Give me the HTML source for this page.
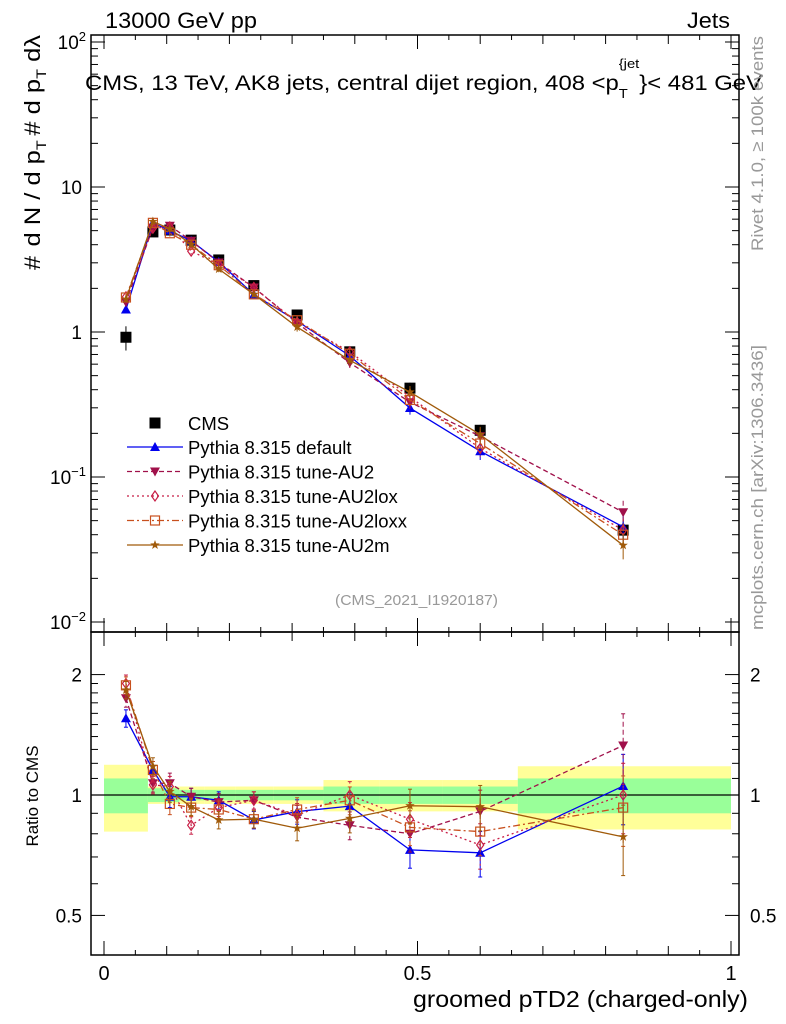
<!DOCTYPE html>
<html><head><meta charset="utf-8"><style>
body{margin:0;background:#fff;}
svg{display:block;font-family:"Liberation Sans",sans-serif;}
</style></head><body>
<svg id="chart" width="786" height="1024" viewBox="0 0 786 1024" xmlns="http://www.w3.org/2000/svg">
<g id="bands"></g>
<g id="series"></g>
<g id="axes"></g>
<text x="105" y="28" font-size="22" textLength="152" lengthAdjust="spacingAndGlyphs">13000 GeV pp</text>
<text x="687" y="28" font-size="22" textLength="43" lengthAdjust="spacingAndGlyphs">Jets</text>
<text x="85" y="90" font-size="21" textLength="677" lengthAdjust="spacingAndGlyphs">CMS, 13 TeV, AK8 jets, central dijet region, 408 &lt;p<tspan font-size="13" dy="8">T</tspan><tspan font-size="13" dy="-30" dx="-8">{jet</tspan><tspan dy="22">}&lt; 481 GeV</tspan></text>
<text x="335" y="605" font-size="15" fill="#999" textLength="163" lengthAdjust="spacingAndGlyphs">(CMS_2021_I1920187)</text>
<text transform="translate(763,251) rotate(-90)" font-size="17" fill="#999" textLength="215" lengthAdjust="spacingAndGlyphs">Rivet 4.1.0, ≥ 100k events</text>
<text transform="translate(763,630) rotate(-90)" font-size="17" fill="#999" textLength="285" lengthAdjust="spacingAndGlyphs">mcplots.cern.ch [arXiv:1306.3436]</text>
<text transform="translate(40,270) rotate(-90)" font-size="22" textLength="235" lengthAdjust="spacingAndGlyphs"># <tspan dx="2">d N / d p</tspan><tspan font-size="14" dy="6">T</tspan><tspan dy="-6" dx="4"># d p</tspan><tspan font-size="14" dy="6">T</tspan><tspan dy="-6"> dλ</tspan></text>
<text transform="translate(38,796) rotate(-90)" font-size="17" text-anchor="middle">Ratio to CMS</text>
<text x="413" y="1007" font-size="23" textLength="335" lengthAdjust="spacingAndGlyphs">groomed pTD2 (charged-only)</text>
<g id="legend"></g>
</svg>
<script>
const edges=[0,0.07,0.09,0.12,0.16,0.21,0.27,0.35,0.44,0.54,0.66,1.0];
const xPoints=[0.035,0.078,0.105,0.139,0.183,0.239,0.308,0.392,0.488,0.6,0.828];
const cmsValues=[0.92,4.9,5.05,4.3,3.14,2.09,1.31,0.73,0.41,0.21,0.043];
const statErr=[0.10,0.04,0.04,0.03,0.03,0.03,0.03,0.05,0.05,0.05,0.10];
const totErr=[0.19,0.05,0.05,0.05,0.05,0.05,0.05,0.09,0.09,0.09,0.18];
const ratioDefault=[1.555,1.155,0.99,0.99,0.97,0.866,0.909,0.938,0.729,0.717,1.053];
const ratioAU2=[1.745,1.07,1.07,0.99,0.96,0.97,0.88,0.84,0.80,0.91,1.33];
const ratioAU2lox=[1.9,1.06,1.05,0.84,0.93,0.97,0.89,1.0,0.87,0.75,1.0];
const ratioAU2loxx=[1.88,1.155,0.95,0.93,0.92,0.87,0.92,0.97,0.83,0.81,0.93];
const ratioAU2m=[1.83,1.18,1.02,0.935,0.866,0.87,0.826,0.874,0.94,0.935,0.786];
const mcRelErr=[0.05,0.05,0.06,0.05,0.05,0.05,0.07,0.08,0.1,0.13,0.2];
const xTicks=[0,0.5,1];
const xTickLabels=["0","0.5","1"];
const ratioTicks=[0.5,1,2];
const ratioTickLabels=["0.5","1","2"];

const NS="http://www.w3.org/2000/svg";
const X=v=>104+v*627;
const Y=v=>332-Math.log10(v)*145;
const R=v=>795-Math.log10(v)*400;
function mk(tag,attrs,parent){const e=document.createElementNS(NS,tag);for(const k in attrs)e.setAttribute(k,attrs[k]);parent.appendChild(e);return e;}
const bands=document.getElementById('bands'),ser=document.getElementById('series'),axes=document.getElementById('axes'),leg=document.getElementById('legend');

for(let i=0;i<cmsValues.length;i++){
  let b=mk('rect',{x:X(edges[i]),y:R(1+totErr[i]),width:X(edges[i+1])-X(edges[i]),height:R(1-totErr[i])-R(1+totErr[i]),fill:'#ffff99'},bands);
  
  
}
for(let i=0;i<cmsValues.length;i++){
  let b=mk('rect',{x:X(edges[i]),y:R(1+statErr[i]),width:X(edges[i+1])-X(edges[i]),height:R(1-statErr[i])-R(1+statErr[i]),fill:'#99ff99'},bands);
  
  
}
mk('line',{x1:91,x2:739,y1:R(1),y2:R(1),stroke:'#000','stroke-width':1.2},bands);

function marker(kind,x,y,color,p){
  const s=5;
  let e;
  if(kind==='up')e=mk('polygon',{points:`${x},${y-s} ${x-s},${y+s*0.8} ${x+s},${y+s*0.8}`,fill:color},p);
  else if(kind==='down')e=mk('polygon',{points:`${x},${y+s} ${x-s},${y-s*0.8} ${x+s},${y-s*0.8}`,fill:color},p);
  else if(kind==='diamond')e=mk('polygon',{points:`${x},${y-s} ${x-3.5},${y} ${x},${y+s} ${x+3.5},${y}`,fill:'none',stroke:color,'stroke-width':1.2},p);
  else if(kind==='square')e=mk('rect',{x:x-4.5,y:y-4.5,width:9,height:9,fill:'none',stroke:color,'stroke-width':1.2},p);
  else if(kind==='star'){let pts=[];for(let k=0;k<10;k++){const r=k%2?2:5,a=-Math.PI/2+k*Math.PI/5;pts.push((x+r*Math.cos(a)).toFixed(1)+','+(y+r*Math.sin(a)).toFixed(1));}e=mk('polygon',{points:pts.join(' '),fill:color},p);}
  else if(kind==='cms')e=mk('rect',{x:x-5.5,y:y-5.5,width:11,height:11,fill:'#000'},p);
  return e;
}
const seriesDefs=[
 {name:'default',label:'Pythia 8.315 default',ratio:ratioDefault,color:'#0000ee',dash:'',m:'up'},
 {name:'au2',label:'Pythia 8.315 tune-AU2',ratio:ratioAU2,color:'#a0104a',dash:'5,3',m:'down'},
 {name:'au2lox',label:'Pythia 8.315 tune-AU2lox',ratio:ratioAU2lox,color:'#c81e46',dash:'2,3',m:'diamond'},
 {name:'au2loxx',label:'Pythia 8.315 tune-AU2loxx',ratio:ratioAU2loxx,color:'#c8501e',dash:'7,3,2,3',m:'square'},
 {name:'au2m',label:'Pythia 8.315 tune-AU2m',ratio:ratioAU2m,color:'#a05a0a',dash:'',m:'star'}
];
const cg=mk('g',{},ser);


cmsValues.forEach((v,i)=>{
  mk('line',{x1:X(xPoints[i]),x2:X(xPoints[i]),y1:Y(v*(1+totErr[i])),y2:Y(v*(1-totErr[i])),stroke:'#000'},cg);
  const m=marker('cms',X(xPoints[i]),Y(v),'#000',cg);
  
  
});
seriesDefs.forEach(s=>{
  const g=mk('g',{},ser);
  
  
  const mainPts=s.ratio.map((r,i)=>X(xPoints[i])+','+Y(r*cmsValues[i]));
  const ratPts=s.ratio.map((r,i)=>X(xPoints[i])+','+R(r));
  mk('polyline',{points:mainPts.join(' '),fill:'none',stroke:s.color,'stroke-width':1.3,'stroke-dasharray':s.dash},g);
  mk('polyline',{points:ratPts.join(' '),fill:'none',stroke:s.color,'stroke-width':1.3,'stroke-dasharray':s.dash},g);
  s.ratio.forEach((r,i)=>{
    const x=X(xPoints[i]),e=mcRelErr[i];
    const v=r*cmsValues[i];
    mk('line',{x1:x,x2:x,y1:Y(v*(1+e)),y2:Y(v*(1-e)),stroke:s.color,'stroke-dasharray':s.dash},g);
    mk('line',{x1:x,x2:x,y1:R(r*(1+e)),y2:R(r*(1-e)),stroke:s.color,'stroke-dasharray':s.dash},g);
    mk('line',{x1:x-2,x2:x+2,y1:R(r*(1+e)),y2:R(r*(1+e)),stroke:s.color},g);
    mk('line',{x1:x-2,x2:x+2,y1:R(r*(1-e)),y2:R(r*(1-e)),stroke:s.color},g);
    const m1=marker(s.m,x,Y(v),s.color,g);
    
    
    const m2=marker(s.m,x,R(r),s.color,g);
    
    
  });
});
const l0=marker('cms',155,423,'#000',leg);


const t0=mk('text',{x:188,y:430,'font-size':18.5},leg);t0.textContent='CMS';


seriesDefs.forEach((s,k)=>{
  const y=447+k*24.5;
  mk('line',{x1:127,x2:183,y1:y,y2:y,stroke:s.color,'stroke-width':1.3,'stroke-dasharray':s.dash},leg);
  marker(s.m,155,y,s.color,leg);
  const t=mk('text',{x:188,y:y+7,'font-size':18.5},leg);t.textContent=s.label;
  
  
});
mk('rect',{x:91,y:35,width:648,height:597,fill:'none',stroke:'#000','stroke-width':1.5},axes);
mk('rect',{x:91,y:632,width:648,height:323,fill:'none',stroke:'#000','stroke-width':1.5},axes);
for(let v=0;v<=1.0001;v+=0.05){
  const major=Math.abs(v*10-Math.round(v*10))<1e-6;
  const L=Math.abs(v*2-Math.round(v*2))<1e-6?14:(major?9:5);
  [[35,1],[632,-1],[632,1],[955,-1]].forEach(([y0,d])=>mk('line',{x1:X(v),x2:X(v),y1:y0,y2:y0+d*L,stroke:'#000'},axes));
}
xTicks.forEach((v,i)=>{const t=mk('text',{x:X(v),y:980,'font-size':20,'text-anchor':'middle'},axes);t.textContent=xTickLabels[i];
 
 });
for(let d=-2;d<=2;d++){
  for(let k=1;k<10;k++){
    const v=Math.pow(10,d)*k;if(v>100)break;
    const y=Y(v);if(y<35||y>632)continue;
    const L=k===1?14:7;
    mk('line',{x1:91,x2:91+L,y1:y,y2:y,stroke:'#000'},axes);
    mk('line',{x1:739,x2:739-L,y1:y,y2:y,stroke:'#000'},axes);
  }
}
const yl=[[100,'10','2'],[10,'10',''],[1,'1',''],[0.1,'10','−1'],[0.01,'10','−2']];
yl.forEach(([v,b,e])=>{const t=mk('text',{x:82,y:Y(v)+7,'font-size':19,'text-anchor':'end'},axes);
 if(e){t.textContent=b;const s=mk('tspan',{'font-size':13,dy:-8},t);s.textContent=e;t.setAttribute('x',86);}
 else t.textContent=b;
 
 });
[0.5,0.6,0.7,0.8,0.9,1,1.1,1.2,1.3,1.4,1.5,1.6,1.7,1.8,1.9,2].forEach(v=>{
  const L=ratioTicks.includes(v)?14:7;
  mk('line',{x1:91,x2:91+L,y1:R(v),y2:R(v),stroke:'#000'},axes);
  mk('line',{x1:739,x2:739-L,y1:R(v),y2:R(v),stroke:'#000'},axes);
});
ratioTicks.forEach((v,i)=>{
  const a=mk('text',{x:82,y:R(v)+7,'font-size':19,'text-anchor':'end'},axes);a.textContent=ratioTickLabels[i];
  
  
  const b=mk('text',{x:750,y:R(v)+7,'font-size':19},axes);b.textContent=ratioTickLabels[i];
  
  
});
</script>
</body></html>
